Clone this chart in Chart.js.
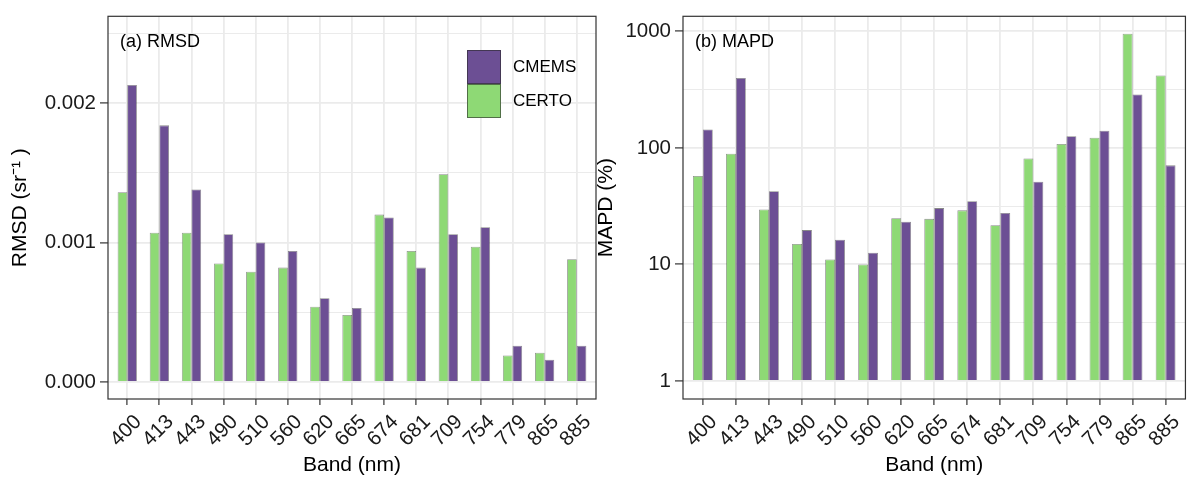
<!DOCTYPE html>
<html><head><meta charset="utf-8">
<script src="https://cdn.jsdelivr.net/npm/chart.js@4/dist/chart.umd.min.js"></script>
<style>
html,body{margin:0;padding:0;background:#fff;overflow:hidden;}
#wrap{position:relative;width:1188px;height:477px;background:#fff;}
#c1{position:absolute;left:0;top:0;}
#c2{position:absolute;left:590px;top:0;}
</style></head><body>
<div id="wrap">
<canvas id="c1" width="600" height="477"></canvas>
<canvas id="c2" width="598" height="477"></canvas>
</div>
<script>
// ---- data ----
const bands = ['400','413','443','490','510','560','620','665','674','681','709','754','779','865','885'];
const seriesNames = ['CERTO','CMEMS'];
const rmsdCERTO = [0.00136,0.00107,0.00107,0.00085,0.00079,0.00082,0.00054,0.00048,0.00120,0.00094,0.00149,0.00097,0.00019,0.00021,0.00088];
const rmsdCMEMS = [0.00213,0.00184,0.00138,0.00106,0.00100,0.00094,0.00060,0.00053,0.00118,0.00082,0.00106,0.00111,0.00026,0.00016,0.00026];
const mapdCERTO = [57.3,89,29.6,15.0,11.0,10.0,24.9,24.6,29.1,21.7,81,108,122,955,418];
const mapdCMEMS = [144,397,42.5,19.7,16.3,12.6,23.2,30.4,34.8,27.6,51.3,126,140,287,70.8];
const rmsdTicks = [0,0.0005,0.001,0.0015,0.002,0.0025];
const rmsdTickLabels = ['0.000','','0.001','','0.002',''];
const mapdTicks = [1,3.1623,10,31.623,100,316.23,1000];
const mapdTickLabels = ['1','','10','','100','','1000'];

const COL_CERTO = '#8ED975';
const COL_CMEMS = '#6C4F94';
const FONT = "'Liberation Sans', Arial, Helvetica, sans-serif";
Chart.defaults.font.family = FONT;
Chart.defaults.color = '#1a1a1a';

const framePlugin = {
  id: 'frame',
  afterDraw(chart, args, opts) {
    const {ctx, chartArea: a} = chart;
    ctx.save();
    ctx.strokeStyle = '#333333';
    ctx.lineWidth = 1.2;
    ctx.strokeRect(a.left, a.top, a.right - a.left, a.bottom - a.top);
    if (opts.label) {
      ctx.fillStyle = '#000';
      ctx.font = '18px ' + FONT;
      ctx.textBaseline = 'middle';
      ctx.textAlign = 'left';
      ctx.fillText(opts.label, a.left + opts.lx, a.top + opts.ly);
    }
    if (opts.legend) {
      const L = opts.legend;
      const ds = chart.data.datasets.slice().reverse();
      ds.forEach((d, i) => {
        const y = L.y + i * L.h;
        ctx.fillStyle = d.backgroundColor;
        ctx.fillRect(L.x, y, L.w, L.h);
        ctx.strokeStyle = 'rgba(40,40,40,0.6)';
        ctx.lineWidth = 1;
        ctx.strokeRect(L.x + 0.5, y + 0.5, L.w - 1, L.h - 1);
        ctx.fillStyle = '#000';
        ctx.font = '17px ' + FONT;
        ctx.textBaseline = 'middle';
        ctx.textAlign = 'left';
        ctx.fillText(d.label, L.x + L.w + 12, y + L.h / 2);
      });
    }
    ctx.restore();
  }
};

function makeDatasets(certo, cmems, base) {
  const mk = (name, arr, col) => ({
    label: name,
    data: arr.map((v, i) => ({x: i + 1, y: v})),
    backgroundColor: col,
    borderColor: 'rgba(40,40,40,0.55)',
    borderWidth: 0.8,
    base: base,
    categoryPercentage: 0.6,
    barPercentage: 1.0
  });
  return [mk(seriesNames[0], certo, COL_CERTO), mk(seriesNames[1], cmems, COL_CMEMS)];
}

function xScale() {
  return {
    type: 'linear', min: 0.4, max: 15.6, offset: false,
    afterBuildTicks: s => { s.ticks = bands.map((b, i) => ({value: i + 1})); },
    afterFit: s => { s.height = 78; },
    ticks: {
      autoSkip: false, maxRotation: 45, minRotation: 45, padding: 5, labelOffset: 11,
      font: {size: 20.5}, color: '#1a1a1a',
      callback: (v, i) => bands[i]
    },
    grid: {offset: false, color: '#EBEBEB', lineWidth: 1.8, tickLength: 6, tickColor: '#333333', tickWidth: 1.2},
    border: {display: false},
    title: {display: true, text: 'Band (nm)', font: {size: 21, lineHeight: 1.2}, color: '#000', padding: {top: 0, bottom: -1}}
  };
}

function yScale(type, min, max, tickVals, tickLabels, title, width, titlePad) {
  return {
    type: type, min: min, max: max,
    afterBuildTicks: s => { s.ticks = tickVals.map(v => ({value: v})); },
    afterFit: s => { s.width = width; },
    ticks: {
      autoSkip: false, padding: 4, font: {size: 20.5}, color: '#1a1a1a',
      callback: (v, i) => tickLabels[i]
    },
    grid: {
      color: '#EBEBEB',
      lineWidth: c => (tickLabels[c.index] ? 1.8 : 1.0),
      tickLength: 8,
      tickColor: c => (tickLabels[c.index] ? '#333333' : 'rgba(0,0,0,0)'),
      tickWidth: 1.2
    },
    border: {display: false},
    title: {display: true, text: title, font: {size: 21, lineHeight: 1.0}, color: '#000', padding: {top: titlePad, bottom: 0}}
  };
}

new Chart(document.getElementById('c1'), {
  type: 'bar',
  data: {datasets: makeDatasets(rmsdCERTO, rmsdCMEMS, 0)},
  options: {
    responsive: false, animation: false,
    layout: {padding: {top: 11, right: 4, left: 0, bottom: 0}},
    scales: {
      x: xScale(),
      y: yScale('linear', -0.000122, 0.002622, rmsdTicks, rmsdTickLabels, 'RMSD (sr\u207B\u00B9 )', 108, 10)
    },
    plugins: {
      legend: {display: false}, tooltip: {enabled: false},
      frame: {label: '(a) RMSD', lx: 12, ly: 26, legend: {x: 467, y: 50, w: 34, h: 34}}
    }
  },
  plugins: [framePlugin]
});

new Chart(document.getElementById('c2'), {
  type: 'bar',
  data: {datasets: makeDatasets(mapdCERTO, mapdCMEMS, 1)},
  options: {
    responsive: false, animation: false,
    layout: {padding: {top: 11, right: 0, left: 0, bottom: 0}},
    scales: {
      x: xScale(),
      y: yScale('logarithmic', 0.7096, 1345, mapdTicks, mapdTickLabels, 'MAPD (%)', 93, 6)
    },
    plugins: {
      legend: {display: false}, tooltip: {enabled: false},
      frame: {label: '(b) MAPD', lx: 12, ly: 26}
    }
  },
  plugins: [framePlugin]
});
</script>
</body></html>
